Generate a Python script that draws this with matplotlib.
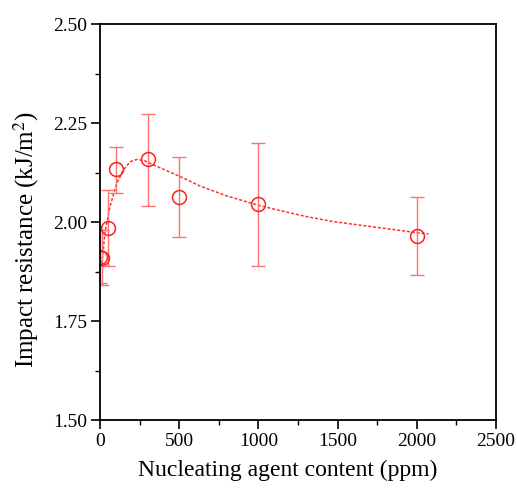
import matplotlib
matplotlib.use("Agg")
import matplotlib.pyplot as plt
from matplotlib.ticker import MultipleLocator

plt.rcParams['font.family'] = ['Liberation Serif', 'DejaVu Serif']
plt.rcParams['mathtext.fontset'] = 'stix'

# data points
content = [0, 10, 50, 100, 300, 500, 1000, 2000]
impact = [1.912, 1.910, 1.985, 2.133, 2.158, 2.063, 2.045, 1.965]
err_low = [0.066, 0.068, 0.096, 0.059, 0.118, 0.102, 0.155, 0.100]
err_high = [0.068, 0.070, 0.096, 0.057, 0.116, 0.100, 0.155, 0.098]

# fitted curve
fit_x = [5, 15, 32, 63, 105, 147, 190, 231, 280, 350, 505, 631, 800, 1002, 1136, 1300, 1473, 1700, 2003, 2073]
fit_y = [1.895, 1.908, 1.975, 2.039, 2.097, 2.131, 2.152, 2.158, 2.155, 2.142, 2.115, 2.091, 2.066, 2.042, 2.029, 2.014, 2.001, 1.989, 1.973, 1.970]

fig = plt.figure(figsize=(5.17, 4.92), dpi=100)
ax = fig.add_axes([0.1934, 0.1463, 0.766, 0.8049])

ax.plot(fit_x, fit_y, linestyle=(0, (2.0, 1.2)), color='#ff3030', lw=1.1)
ax.errorbar(content, impact, yerr=[err_low, err_high], fmt='none',
            ecolor='#ff7070', elinewidth=1.0, capsize=5, capthick=1.0)
ax.plot(content, impact, 'o', mfc='none', mec='#ff2020', ms=10, mew=1.1)

ax.set_xlim(0, 2500)
ax.set_ylim(1.5, 2.5)
ax.xaxis.set_major_locator(MultipleLocator(500))
ax.xaxis.set_minor_locator(MultipleLocator(250))
ax.yaxis.set_major_locator(MultipleLocator(0.25))
ax.yaxis.set_minor_locator(MultipleLocator(0.125))
ax.yaxis.set_major_formatter(matplotlib.ticker.FormatStrFormatter('%.2f'))
ax.tick_params(which='major', direction='out', length=6.5, width=1.2, labelsize=14,
               pad=3, top=False, right=False)
ax.tick_params(which='minor', direction='out', length=3.5, width=1.0, top=False, right=False)
for s in ax.spines.values():
    s.set_linewidth(1.3)

ax.set_xlabel('Nucleating agent content (ppm)', fontsize=17, labelpad=8)
ax.set_ylabel('Impact resistance (kJ/m$^2$)', fontsize=18, labelpad=8)
ax.xaxis.set_label_coords(0.475, -0.10)
ax.yaxis.set_label_coords(-0.15, 0.455)

fig.savefig('out.png', dpi=100)
